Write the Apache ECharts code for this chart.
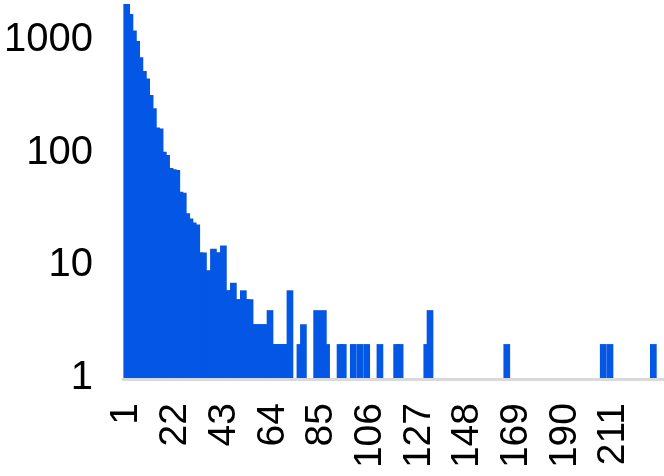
<!DOCTYPE html>
<html><head><meta charset="utf-8">
<script src="https://cdn.jsdelivr.net/npm/echarts@6/dist/echarts.min.js"></script>
<style>html,body{margin:0;padding:0;background:#fff}#c{width:664px;height:476px}</style>
</head><body><div id="c"></div>
<script>
// bin centres (x values) and their counts
const binX = [1.0, 2.4, 3.9, 5.3, 6.7, 8.2, 9.6, 11.1, 12.5, 13.9, 15.4, 16.8, 18.2, 19.7, 21.1, 22.6, 24.0, 25.4, 26.9, 28.3,
  29.7, 31.2, 32.6, 34.1, 35.5, 36.9, 38.4, 39.8, 41.2, 42.7, 44.1, 45.6, 47.0, 48.4, 49.9, 51.3, 52.7, 54.2, 55.6, 57.1,
  58.5, 59.9, 61.4, 62.8, 64.2, 65.7, 67.1, 68.6, 70.0, 71.4, 75.7, 77.2, 82.9, 85.8, 87.2, 93.0, 94.4, 98.7, 101.6, 104.5,
  110.2, 117.4, 118.9, 130.4, 131.8, 164.9, 206.5, 209.4, 228.1];
const counts = [2080, 1700, 1210, 980, 700, 530, 455, 325, 247, 167, 164, 102, 95, 73, 71, 70, 45, 44, 29, 26,
  24, 23, 13, 13, 9, 9, 14, 13, 13, 15, 6, 6, 7, 5, 5, 6, 5, 5, 3, 3,
  3, 3, 3, 4, 2, 2, 2, 2, 2, 6, 2, 3, 4, 4, 2, 2, 2, 2, 2, 2,
  2, 2, 2, 2, 4, 2, 2, 2, 2];
const xTickLabels = ['1', '22', '43', '64', '85', '106', '127', '148', '169', '190', '211'];
const yTickLabels = ['1', '10', '100', '1000'];

const chart = echarts.init(document.getElementById('c'), null, {renderer: 'canvas'});
const font = '"Liberation Sans", Arial, sans-serif';
chart.setOption({
  animation: false,
  backgroundColor: '#ffffff',
  grid: {left: 123, right: 0, top: 0, bottom: 98, containLabel: false, outerBoundsMode: 'none'},
  xAxis: {
    type: 'value', min: -0.6, max: 232.7, offset: 1,
    splitLine: {show: false},
    axisTick: {show: false},
    axisLine: {show: true, lineStyle: {color: '#d9d9d9', width: 3}},
    axisLabel: {
      customValues: xTickLabels.map(Number),
      rotate: 90, margin: 24, fontSize: 39, color: '#000', fontFamily: font,
      formatter: v => String(Math.round(v))
    }
  },
  yAxis: {
    type: 'log', logBase: 10, min: 1, max: 2260,
    splitLine: {show: false},
    axisTick: {show: false},
    axisLine: {show: false},
    axisLabel: {
      showMaxLabel: false, margin: 30, fontSize: 40, color: '#000', fontFamily: font,
      formatter: v => { const s = String(Math.round(v)); return yTickLabels.includes(s) ? s : ''; }
    }
  },
  series: [{
    type: 'bar',
    data: binX.map((x, i) => [x, counts[i]]),
    barWidth: 6.7,
    itemStyle: {color: '#0457e5'}
  }]
});
</script></body></html>
